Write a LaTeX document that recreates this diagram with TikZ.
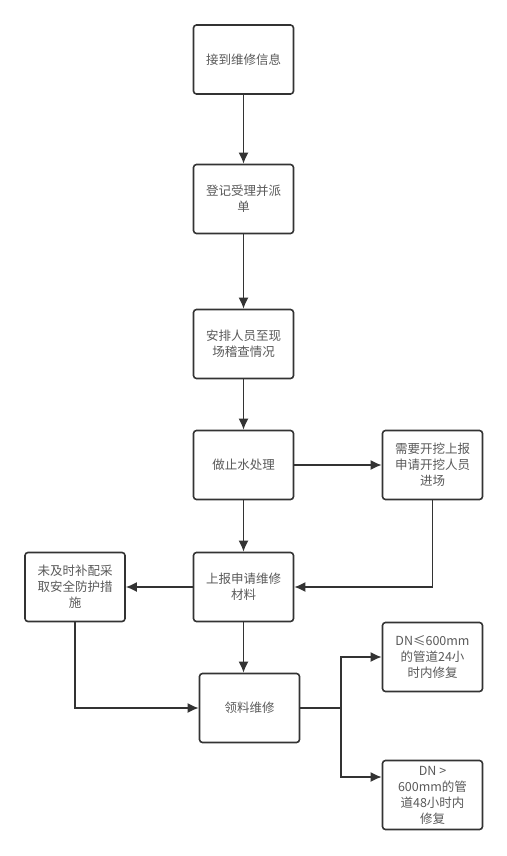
\documentclass[tikz,border=0pt]{standalone}
\usepackage{fontspec}
\setmainfont{Noto Sans CJK SC}
\usetikzlibrary{arrows.meta}
\definecolor{boxline}{HTML}{333333}
\definecolor{boxtext}{HTML}{5A5A5A}
\tikzset{
  stepbox/.style={draw=boxline,line width=1.6pt,rounded corners=3pt,fill=white,
    minimum width=100pt,minimum height=69pt,inner sep=0pt,align=center,
    text=boxtext,font=\fontsize{12.5}{16}\selectfont},
  flow/.style={draw=boxline,line width=1.6pt,->}
}
\begin{document}
\begin{tikzpicture}[x=1pt,y=-1pt,>={Latex[length=11pt,width=10pt]}]
\useasboundingbox (0,0) rectangle (506,856);
\node[stepbox] (receive) at (243.5,59.5) {接到维修信息};
\node[stepbox] (register) at (243.5,199) {登记受理并派\\单};
\node[stepbox] (inspect) at (243.5,344) {安排人员至现\\场稽查情况};
\node[stepbox] (stopwater) at (243.5,465) {做止水处理};
\node[stepbox] (excavate) at (432.5,465) {需要开挖上报\\申请开挖人员\\进场};
\node[stepbox] (report) at (243.5,587) {上报申请维修\\材料};
\node[stepbox] (safety) at (75,587) {未及时补配采\\取安全防护措\\施};
\node[stepbox] (repair) at (249.5,708) {领料维修};
\node[stepbox] (small) at (432.5,657) {DN≤600mm\\的管道24小\\时内修复};
\node[stepbox] (large) at (432.5,795) {DN >\\600mm的管\\道48小时内\\修复};
\coordinate (split) at (341,708);
\draw[flow] (receive) -- (register);
\draw[flow] (register) -- (inspect);
\draw[flow] (inspect) -- (stopwater);
\draw[flow] (stopwater) -- (excavate);
\draw[flow] (stopwater) -- (report);
\draw[flow] (excavate.south) |- (report.east);
\draw[flow] (report) -- (safety);
\draw[flow] (safety.south) |- (repair.west);
\draw[flow] (report.south) -- (report.south |- repair.north);
\draw[draw=boxline,line width=1.6pt] (repair.east) -- (split);
\draw[flow] (split) |- (small.west);
\draw[flow] (split) |- ([yshift=18pt]large.west);
\end{tikzpicture}
\end{document}
